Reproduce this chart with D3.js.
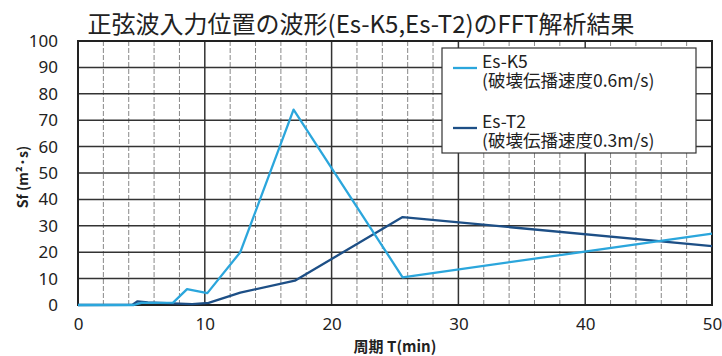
<!DOCTYPE html>
<html><head><meta charset="utf-8">
<script src="https://cdn.jsdelivr.net/npm/d3@7"></script>
<style>
body{margin:0;background:#fff;}
text{font-family:"Noto Sans CJK JP","Noto Sans",sans-serif;}
</style></head>
<body><svg id="c" width="722" height="356"></svg>
<script>
const title = "正弦波入力位置の波形(Es-K5,Es-T2)のFFT解析結果";
const xTicks = [0,10,20,30,40,50];
const yTicks = [0,10,20,30,40,50,60,70,80,90,100];
const xMinor = [2,4,6,8,12,14,16,18,22,24,26,28,32,34,36,38,42,44,46,48];
const seriesNames = ["Es-K5","Es-T2"];
const seriesNotes = ["(破壊伝播速度0.6m/s)","(破壊伝播速度0.3m/s)"];
const k5T  = [0, 4.4, 5.0, 7.5, 8.6, 10.2, 12.8, 17.0, 25.6, 50];
const k5Sf = [0, 0,   0.8, 0.9, 6.0, 4.5,  20,   74,   10.5, 27];
const t2T  = [0, 4.3, 4.7, 5.5, 7.5, 9.0, 10.3, 12.8, 17.1, 25.6, 50];
const t2Sf = [0, 0.1, 1.4, 1.0, 0.6, 0.3, 0.8,  4.7,  9.2,  33.3, 22.3];

const svg = d3.select("#c");
const x = d3.scaleLinear().domain([0,50]).range([78,712]);
const y = d3.scaleLinear().domain([0,100]).range([305,41]);

svg.append("text").attr("x",361).attr("y",33).attr("text-anchor","middle")
  .attr("font-size",24).attr("fill","#222").text(title);

// minor vertical grid
svg.append("g").selectAll("line").data(xMinor).join("line")
  .attr("x1",d=>x(d)).attr("x2",d=>x(d)).attr("y1",y(100)).attr("y2",y(0))
  .attr("stroke","#888").attr("stroke-width",1).attr("stroke-dasharray","5,2");
// major vertical
svg.append("g").selectAll("line").data(xTicks.slice(1,-1)).join("line")
  .attr("x1",d=>x(d)).attr("x2",d=>x(d)).attr("y1",y(100)).attr("y2",y(0))
  .attr("stroke","#333").attr("stroke-width",1.5);
// horizontal
svg.append("g").selectAll("line").data(yTicks.slice(1,-1)).join("line")
  .attr("x1",x(0)).attr("x2",x(50)).attr("y1",d=>y(d)).attr("y2",d=>y(d))
  .attr("stroke","#333").attr("stroke-width",1.5);
svg.append("rect").attr("x",x(0)).attr("y",y(100)).attr("width",x(50)-x(0)).attr("height",y(0)-y(100))
  .attr("fill","none").attr("stroke","#222").attr("stroke-width",2);

// axes labels
const ya = svg.append("g").attr("transform",`translate(${x(0)},0)`)
  .call(d3.axisLeft(y).tickValues(yTicks).tickSize(0).tickPadding(20));
ya.select(".domain").remove();
ya.selectAll("text").attr("font-size",17).attr("fill","#222")
  .style("font-family","'Noto Sans','Open Sans',sans-serif");
const xa = svg.append("g").attr("transform",`translate(0,${y(0)})`)
  .call(d3.axisBottom(x).tickValues(xTicks).tickSize(0).tickPadding(13));
xa.select(".domain").remove();
xa.selectAll("text").attr("font-size",17).attr("fill","#222")
  .style("font-family","'Noto Sans','Open Sans',sans-serif");

svg.append("text").attr("transform","translate(28,177) rotate(-90)").attr("text-anchor","middle")
  .attr("font-size",14).attr("font-weight","bold").attr("fill","#222").text("Sf (m²·s)");
svg.append("text").attr("x",395).attr("y",352).attr("text-anchor","middle")
  .attr("font-size",15).attr("font-weight","bold").attr("fill","#222").text("周期 T(min)");

const colors = ["#2ba6dc","#1d4f86"];
const line = d3.line().x(d=>x(d[0])).y(d=>y(d[1]));
const data = [k5T.map((t,i)=>[t,k5Sf[i]]), t2T.map((t,i)=>[t,t2Sf[i]])];
[1,0].forEach(i=>{
  svg.append("path").datum(data[i]).attr("d",line).attr("fill","none")
    .attr("stroke",colors[i]).attr("stroke-width",2.3).attr("stroke-linejoin","round");
});

// legend
const lg = svg.append("g");
lg.append("rect").attr("x",442).attr("y",48).attr("width",254).attr("height",105)
  .attr("fill","#fff").attr("stroke","#333").attr("stroke-width",1.2);
const legY = [68,128];
seriesNames.forEach((n,i)=>{
  lg.append("line").attr("x1",453).attr("x2",477).attr("y1",legY[i]).attr("y2",legY[i])
    .attr("stroke",colors[i]).attr("stroke-width",2.3);
  const t = lg.append("text").attr("x",482).attr("y",legY[i]).attr("font-size",17.5).attr("fill","#222");
  t.append("tspan").attr("x",482).attr("y",legY[i]).text(n);
  t.append("tspan").attr("x",482).attr("y",legY[i]+19).text(seriesNotes[i]);
});
</script></body></html>
